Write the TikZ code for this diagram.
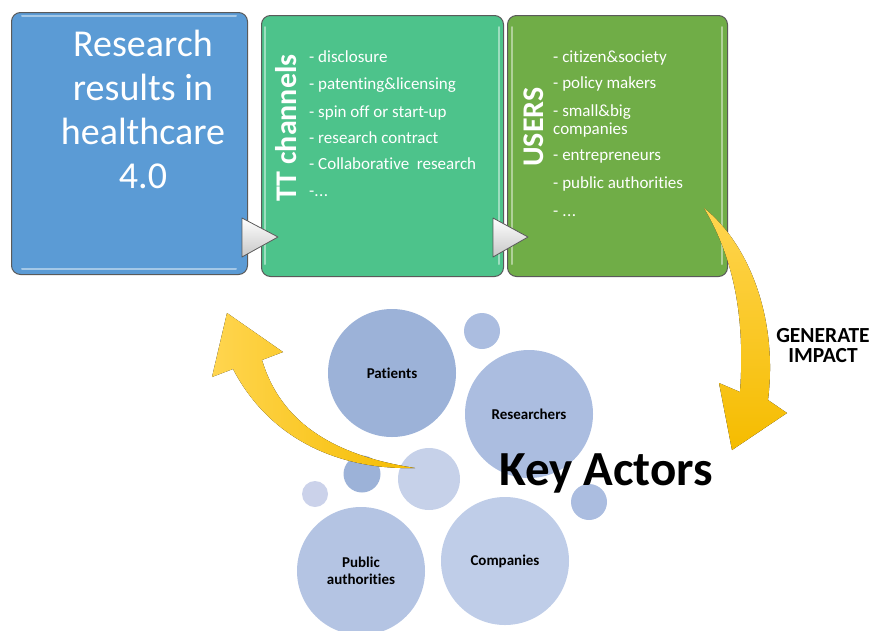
\documentclass[tikz,border=0pt]{standalone}
\usepackage{fontspec}
\setmainfont{Carlito}[Ligatures=NoCommon]
\definecolor{boxblue}{HTML}{5B9BD5}
\definecolor{boxteal}{HTML}{4DC38B}
\definecolor{boxolive}{HTML}{70AD47}
\definecolor{edgegray}{HTML}{5A5A5A}
\definecolor{gold}{HTML}{F5BC00}
\definecolor{goldlight}{HTML}{FFD54F}
\definecolor{actorA}{HTML}{9CB2D8}
\definecolor{actorB}{HTML}{ABBDE0}
\definecolor{actorC}{HTML}{B4C4E3}
\definecolor{actorD}{HTML}{BFCDE8}
\definecolor{actorE}{HTML}{C6D1E9}
\definecolor{actorF}{HTML}{CBD2EA}
\newcommand{\threedots}{.\kern.5pt.\kern.5pt.}
\begin{document}
\begin{tikzpicture}[x=1pt, y=-1pt, line join=round, line cap=round,
	panel/.style={draw=edgegray, line width=1pt, rounded corners=9pt, anchor=north west, inner sep=0pt},
	item/.style={anchor=base west, inner sep=0pt, text=white, font=\fontsize{17}{18}\selectfont},
	vlabel/.style={rotate=90, inner sep=0pt, text=white, font=\fontsize{30}{32}\selectfont\bfseries},
	actor/.style={circle, inner sep=0pt, minimum size=#1, font=\fontsize{15}{17}\selectfont\bfseries, align=center},
	pointer/.style={draw=edgegray, line width=.8pt, top color=white, bottom color=black!22}]
	\useasboundingbox (0,0) rectangle (872,630);
	% the three panels
	\node[panel, fill=boxblue, minimum width=236pt, minimum height=262pt] (res) at (11,12) {};
	\node[panel, fill=boxteal, minimum width=242pt, minimum height=261pt] (tt) at (261,15) {};
	\node[panel, fill=boxolive, minimum width=220pt, minimum height=261pt] (usr) at (507,15) {};
	\draw[white, opacity=.45, line width=2pt] (22,16)--(236,16) (22,269)--(236,269)
		(265,27)--(265,264) (499,27)--(499,264) (512,27)--(512,264) (722,27)--(722,264);
	\node[inner sep=0pt, text=white, align=center, font=\fontsize{38}{44}\selectfont] (restext) at (143,109)
		{Research\\results in\\healthcare\\4.0};
	% channels
	\node[vlabel] (ttlab) at (286,128) {TT channels};
	\foreach \y/\t [count=\i] in {62/- disclosure, 89/- patenting\&licensing, 117/- spin off or start-up,
		143/- research contract, 169/- Collaborative\ \ research, 196/{-\threedots}}
		\node[item] (tt\i) at (309,\y) {\t};
	% users
	\node[vlabel] (usrlab) at (534,127) {USERS};
	\foreach \y/\t [count=\i] in {62/- citizen\&society, 88/- policy makers, 116/- small\&big,
		134/companies, 160/- entrepreneurs, 188/- public authorities, 216/{- \threedots}}
		\node[item] (usr\i) at (553,\y) {\t};
	% triangles between panels
	\draw[pointer] (242,218)--(278,237)--(242,257)--cycle;
	\draw[pointer] (493,218)--(528,237)--(493,257)--cycle;
	% key actors
	\node[actor=128pt, fill=actorA] (pat) at (392,373) {Patients};
	\node[actor=36pt, fill=actorB] (dot1) at (482,331) {};
	\node[actor=128pt, fill=actorB] (rsr) at (529,414) {Researchers};
	\node[actor=62pt, fill=actorE] (mid) at (429,479) {};
	\node[actor=37pt, fill=actorA] (dot2) at (362,474) {};
	\node[actor=26pt, fill=actorF] (dot3) at (315,494) {};
	\node[actor=36pt, fill=actorB] (dot4) at (589,502) {};
	\node[actor=128pt, fill=actorC] (pub) at (361,571) {Public\\authorities};
	\node[actor=128pt, fill=actorD] (com) at (505,561) {Companies};
	\node[anchor=base, inner sep=0pt, font=\fontsize{49}{52}\selectfont\bfseries] (key) at (606,485) {Key Actors};
	% curved arrows
	\coordinate (impstart) at (704,208);
	\coordinate (impend) at (732,450);
	\fill[top color=goldlight, bottom color=gold] (impstart) .. controls (750,245) and (778,320) .. (768,400)
		-- (787,413) -- (impend) -- (719,383) -- (740,392) .. controls (745,320) and (735,260) .. (impstart) -- cycle;
	\coordinate (backstart) at (415,468);
	\coordinate (backend) at (227,313);
	\fill[left color=goldlight, right color=gold] (backstart) .. controls (330,455) and (280,420) .. (262,360)
		-- (283,352) -- (backend) -- (212,377) -- (233,369) .. controls (270,440) and (340,470) .. (backstart) -- cycle;
	\node[inner sep=0pt, align=center, font=\fontsize{21.5}{20}\selectfont\bfseries] (impact) at (823,346) {GENERATE\\IMPACT};
\end{tikzpicture}
\end{document}
